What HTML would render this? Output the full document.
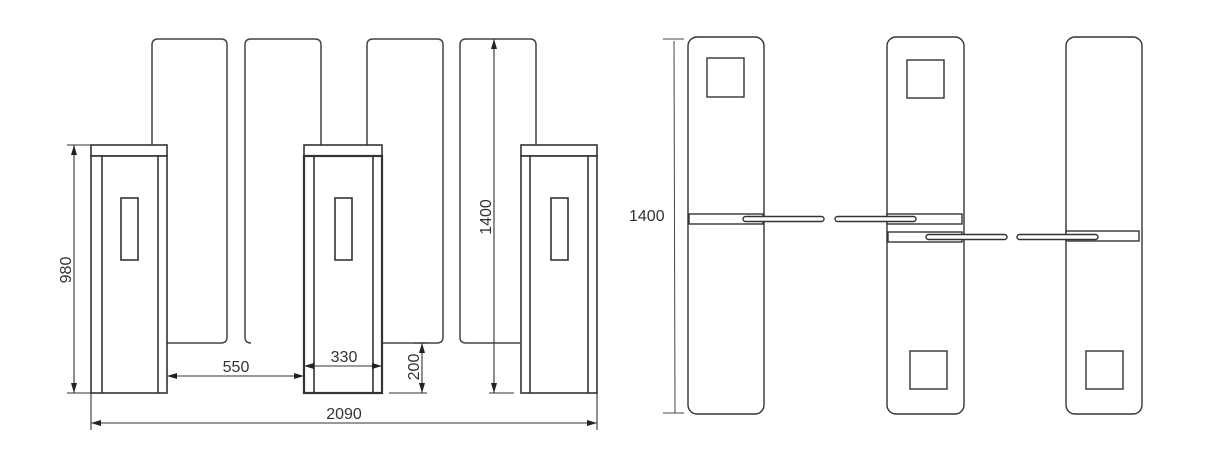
<!DOCTYPE html>
<html><head><meta charset="utf-8"><style>
html,body{margin:0;padding:0;background:#fff;}
svg{display:block;}
text{font-family:"Liberation Sans",sans-serif;fill:#333;}
</style></head><body>
<svg width="1229" height="457" viewBox="0 0 1229 457" xmlns="http://www.w3.org/2000/svg">
<defs>
<marker id="ar" viewBox="0 0 10 6" refX="10" refY="3" markerWidth="11" markerHeight="6" orient="auto-start-reverse" markerUnits="userSpaceOnUse">
<path d="M0,0 L10,3 L0,6 z" fill="#222"/></marker>
</defs>
<g fill="none" stroke="#444" stroke-width="1.5">
<path d="M152,145 V45 Q152,39 158,39 H221 Q227,39 227,45 V337 Q227,343 221,343 H167"/>
<path d="M251,343 Q245,343 245,337 V45 Q245,39 251,39 H315 Q321,39 321,45 V145"/>
<path d="M367,145 V45 Q367,39 373,39 H437 Q443,39 443,45 V337 Q443,343 437,343 H382"/>
<path d="M520,343 H466 Q460,343 460,337 V45 Q460,39 466,39 H530 Q536,39 536,45 V145"/>
</g>
<g fill="#fff" stroke="#333" stroke-width="1.6">
<rect x="91" y="145" width="76" height="11"/>
<rect x="91" y="156" width="76" height="237"/>
<line x1="102" y1="156" x2="102" y2="393"/><line x1="158" y1="156" x2="158" y2="393"/>
<rect x="121" y="198" width="17" height="62"/>
<rect x="304" y="145" width="78" height="11"/>
<rect x="304" y="156" width="78" height="237" stroke-width="2.2"/>
<line x1="314" y1="156" x2="314" y2="393"/><line x1="373" y1="156" x2="373" y2="393"/>
<rect x="335" y="198" width="17" height="62"/>
<rect x="521" y="145" width="76" height="11"/>
<rect x="521" y="156" width="76" height="237"/>
<line x1="530" y1="156" x2="530" y2="393"/><line x1="588" y1="156" x2="588" y2="393"/>
<rect x="551" y="198" width="17" height="62"/>
</g>
<g stroke="#333" stroke-width="1.1" fill="none">
<line x1="67" y1="145" x2="100" y2="145"/><line x1="67" y1="393" x2="100" y2="393"/>
<line x1="74" y1="145" x2="74" y2="393" marker-start="url(#ar)" marker-end="url(#ar)"/>
<line x1="167" y1="376" x2="304" y2="376" marker-start="url(#ar)" marker-end="url(#ar)"/>
<line x1="304" y1="366" x2="382" y2="366" marker-start="url(#ar)" marker-end="url(#ar)"/>
<line x1="389" y1="393" x2="427" y2="393"/><line x1="414" y1="343" x2="428" y2="343"/>
<line x1="422" y1="343" x2="422" y2="393" marker-start="url(#ar)" marker-end="url(#ar)"/>
<line x1="489" y1="393" x2="514" y2="393"/>
<line x1="494" y1="39" x2="494" y2="393" marker-start="url(#ar)" marker-end="url(#ar)"/>
<line x1="91" y1="393" x2="91" y2="430"/><line x1="597" y1="393" x2="597" y2="430"/>
<line x1="91" y1="423" x2="597" y2="423" marker-start="url(#ar)" marker-end="url(#ar)"/>
</g>
<text x="0" y="0" font-size="16" text-anchor="middle" transform="translate(71,270) rotate(-90)">980</text>
<text x="236" y="372" font-size="16" text-anchor="middle">550</text>
<text x="344" y="362" font-size="16" text-anchor="middle">330</text>
<text x="0" y="0" font-size="16" text-anchor="middle" transform="translate(419,367) rotate(-90)">200</text>
<text x="0" y="0" font-size="16" text-anchor="middle" transform="translate(491,217) rotate(-90)">1400</text>
<text x="344" y="419" font-size="16" text-anchor="middle">2090</text>

<g stroke="#444" stroke-width="1" fill="none">
<line x1="663" y1="39" x2="684" y2="39"/><line x1="663" y1="413" x2="684" y2="413"/>
<line x1="674" y1="41" x2="675" y2="413"/>
</g>
<text x="629" y="221" font-size="16">1400</text>
<g fill="#fff" stroke="#333" stroke-width="1.4">
<rect x="688" y="37" width="76" height="377" rx="9"/>
<rect x="887" y="37" width="77" height="377" rx="9"/>
<rect x="1066" y="37" width="76" height="377" rx="9"/>
<rect x="707" y="58" width="37" height="39"/>
<rect x="907" y="60" width="37" height="38"/>
<rect x="910" y="351" width="37" height="38"/>
<rect x="1086" y="351" width="37" height="38"/>
<rect x="689" y="214" width="74" height="10"/>
<rect x="887" y="214" width="75" height="10"/>
<rect x="888" y="232" width="74" height="10"/>
<rect x="1066" y="231" width="73" height="10"/>
<rect x="743" y="216.5" width="81" height="5" rx="2.5"/>
<rect x="835" y="216.5" width="81" height="5" rx="2.5"/>
<rect x="926" y="234.5" width="81" height="5" rx="2.5"/>
<rect x="1017" y="234.5" width="81" height="5" rx="2.5"/>
</g>
</svg>
</body></html>
